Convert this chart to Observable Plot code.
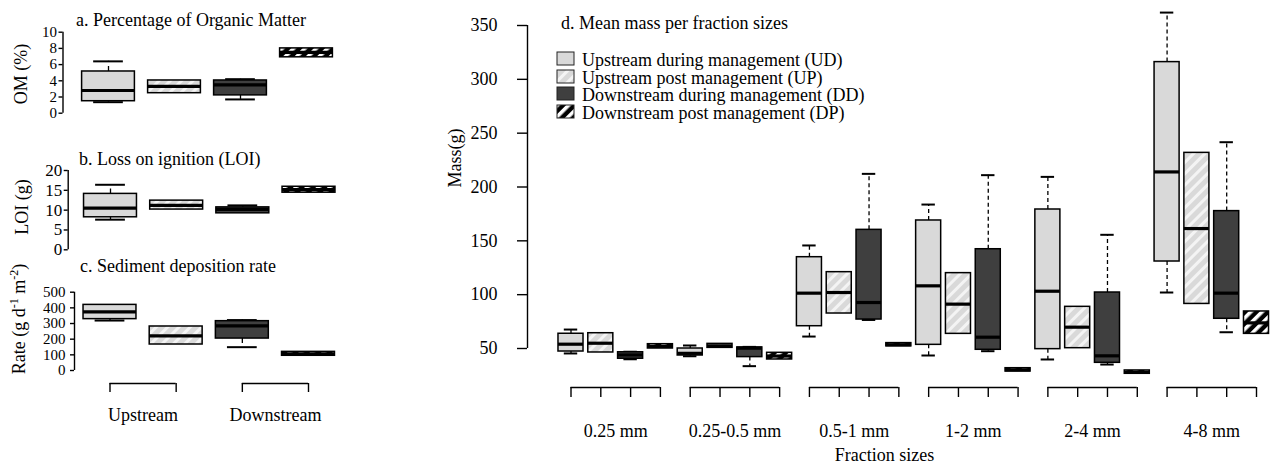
<!DOCTYPE html>
<html>
<head>
<meta charset="utf-8">
<script src="https://cdn.jsdelivr.net/npm/d3@7"></script>
<script src="https://cdn.jsdelivr.net/npm/@observablehq/plot@0.6"></script>
<style>
html,body{margin:0;padding:0;background:#fff;}
#root{position:relative;width:1271px;height:471px;overflow:hidden;background:#fff;font-family:"Liberation Serif","Times New Roman",serif;color:#000;}
.lbl{position:absolute;font-size:18px;line-height:18px;white-space:nowrap;}
.rot{position:absolute;font-size:18px;line-height:18px;white-space:nowrap;transform:translate(-50%,-50%) rotate(-90deg);}
.sup{font-size:12px;position:relative;top:-7px;}
</style>
</head>
<body>
<div id="root">
<svg width="0" height="0" style="position:absolute;left:0;top:0">
 <defs>
  <pattern id="hUP" patternUnits="userSpaceOnUse" width="8" height="8" patternTransform="rotate(45)">
   <rect width="8" height="8" fill="#d9d9d9"/>
   <rect width="3" height="8" fill="#f4f4f4"/>
  </pattern>
  <pattern id="hDP" patternUnits="userSpaceOnUse" width="8" height="8" patternTransform="rotate(45)">
   <rect width="8" height="8" fill="#000"/>
   <rect width="3.6" height="8" fill="#fff"/>
  </pattern>
 </defs>
</svg>
</div>
<script>
// ---------- DATA ----------
const treatments = ["UD", "UP", "DD", "DP"];
const treatmentLabels = [
  "Upstream during management (UD)",
  "Upstream post management (UP)",
  "Downstream during management (DD)",
  "Downstream post management (DP)"
];
const fractions = ["0.25 mm", "0.25-0.5 mm", "0.5-1 mm", "1-2 mm", "2-4 mm", "4-8 mm"];
// each entry: [lower whisker, Q1, median, Q3, upper whisker], one per fraction
const massUD = [
  [45.4, 47.2, 54, 63.7, 67.6],
  [42.8, 43.5, 45.5, 50, 52.8],
  [61.1, 70.7, 101.4, 134.8, 145.7],
  [43.5, 53.4, 108.2, 168.9, 183.7],
  [39.8, 49.4, 103.2, 179.1, 209.4],
  [102, 130.8, 214, 316, 362]
];
const massUP = [
  [46.3, 46.3, 54.9, 64.2, 64.2],
  [50.6, 50.6, 52.5, 54.3, 54.3],
  [82.5, 82.5, 102, 120.9, 120.9],
  [63.6, 63.6, 91.2, 120, 120],
  [50.3, 50.3, 69.8, 88.7, 88.7],
  [91.4, 91.4, 161.4, 231.7, 231.7]
];
const massDD = [
  [40, 40.5, 44, 46.5, 47],
  [33.6, 42, 50.3, 51, 51.5],
  [76.5, 76.9, 92.7, 160.2, 212.2],
  [47.5, 48.8, 60.5, 142.2, 211],
  [35.1, 36.7, 43.2, 102, 155.6],
  [65.1, 77.6, 101.4, 177.6, 241.6]
];
const massDP = [
  [50, 50, 52, 54, 54],
  [39.8, 39.8, 43, 46, 46],
  [52, 52, 53.5, 55, 55],
  [28.6, 28.6, 30.2, 31.7, 31.7],
  [26.5, 26.5, 28, 29.6, 29.6],
  [63.6, 63.6, 73.8, 84.4, 84.4]
];
const massTicks = [50, 100, 150, 200, 250, 300, 350];

const sites = ["Upstream", "Downstream"];
// one box per treatment (UD, UP, DD, DP): [lower whisker, Q1, median, Q3, upper whisker]
const omStats = [[1.36, 1.48, 2.8, 5.15, 6.4], [2.47, 2.47, 3.3, 4.04, 4.04], [1.7, 2.2, 3.5, 4.04, 4.2], [6.9, 6.9, 7.5, 8.0, 8.0]];
const omTicks = [0, 2, 4, 6, 8, 10];
const loiStats = [[7.6, 8.2, 10.5, 14.1, 16.4], [10.15, 10.15, 11.2, 12.4, 12.4], [9.2, 9.2, 10.2, 10.7, 11.2], [14.4, 14.4, 15.2, 15.9, 15.9]];
const loiTicks = [0, 5, 10, 15, 20];
const rateStats = [[319, 328, 375, 419, 419], [166, 166, 221, 281, 281], [149, 204, 285, 315, 322], [94, 94, 107, 119, 119]];
const rateTicks = [0, 100, 200, 300, 400, 500];

// ---------- STYLE ----------
const fillOf = {UD: "#d9d9d9", UP: "url(#hUP)", DD: "#3f3f3f", DP: "url(#hDP)"};
const serif = '"Liberation Serif", "Times New Roman", serif';
const baseStyle = {fontFamily: serif, fontSize: "17px", background: "transparent", color: "#000", overflow: "visible"};
const root = document.getElementById("root");

function toRow(s, pos, t) { return {pos, t, lo: s[0], q1: s[1], med: s[2], q3: s[3], hi: s[4]}; }
function mount(el, left, top) {
  el.style.position = "absolute"; el.style.left = left + "px"; el.style.top = top + "px";
  root.appendChild(el);
}
function addHTML(html) { root.insertAdjacentHTML("beforeend", html); }

function boxMarks(rows, bw, cw, dash) {
  const up = rows.filter(d => d.hi > d.q3), dn = rows.filter(d => d.lo < d.q1);
  const w = {stroke: "#000", strokeWidth: 1.3, strokeDasharray: dash};
  return [
    Plot.ruleX(up, {x: "pos", y1: "q3", y2: "hi", ...w}),
    Plot.ruleX(dn, {x: "pos", y1: "q1", y2: "lo", ...w}),
    Plot.ruleY(up, {x1: d => d.pos - cw / 2, x2: d => d.pos + cw / 2, y: "hi", stroke: "#000", strokeWidth: 2}),
    Plot.ruleY(dn, {x1: d => d.pos - cw / 2, x2: d => d.pos + cw / 2, y: "lo", stroke: "#000", strokeWidth: 2}),
    Plot.rect(rows, {x1: d => d.pos - bw / 2, x2: d => d.pos + bw / 2, y1: "q1", y2: "q3", fill: d => fillOf[d.t], stroke: "#000", strokeWidth: 1.5}),
    Plot.ruleY(rows, {x1: d => d.pos - bw / 2, x2: d => d.pos + bw / 2, y: "med", stroke: "#000", strokeWidth: 3.2})
  ];
}

// ---------- LEFT PANELS ----------
function smallPanel(stats, ticks, top, height, axisLeft, xRange, yRange, tickPadding, tickFont, extra) {
  const rows = stats.map((s, i) => toRow(s, i + 1, treatments[i]));
  const xs = d3.scaleLinear([1, 4], xRange);
  const p = Plot.plot({
    width: 440, height, marginLeft: axisLeft, marginRight: 0,
    marginTop: 20, marginBottom: extra ? extra.marginBottom : 10,
    x: {domain: xs.domain(), range: xs.range(), ...(extra ? {} : {axis: null})},
    y: {domain: [ticks[0], ticks[ticks.length - 1]], range: yRange},
    color: {type: "identity"},
    style: baseStyle,
    marks: [
      Plot.ruleX([xs.invert(axisLeft)], {y1: ticks[0], y2: ticks[ticks.length - 1], strokeWidth: 1.4}),
      Plot.axisY({ticks, tickSize: 4, tickPadding, fontSize: tickFont, strokeWidth: 1.4, label: null}),
      ...boxMarks(rows, 0.8, 0.45, "5,4"),
      ...(extra ? extra.marks : [])
    ]
  });
  mount(p, 0, top);
}

smallPanel(omStats, omTicks, 0, 130, 62.5, [108, 306], [112.7, 31.7], 2, 15);
smallPanel(loiStats, loiTicks, 130, 125, 67.7, [110, 308.5], [119.3, 40], 2, 17);
const siteRows = sites.map((s, i) => ({name: s, a: 2 * i + 1, b: 2 * i + 2, mid: 2 * i + 1.5}));
smallPanel(rateStats, rateTicks, 255, 216, 74, [109.5, 308], [115, 36.7], 5, 15, {
  marginBottom: 88,
  marks: [
    Plot.axisX({ticks: [1, 2, 3, 4], tickSize: 9, tickFormat: () => "", strokeWidth: 1.4, label: null}),
    Plot.ruleY(siteRows, {x1: "a", x2: "b", y: rateTicks[0], dy: 13, strokeWidth: 1.4}),
    Plot.text(siteRows, {x: "mid", text: "name", frameAnchor: "bottom", dy: 37, fontSize: 18})
  ]
});

addHTML('<div class="lbl" style="left:76px;top:11px">a. Percentage of Organic Matter</div>');
addHTML('<div class="lbl" style="left:79px;top:150px">b. Loss on ignition (LOI)</div>');
addHTML('<div class="lbl" style="left:80px;top:257px">c. Sediment deposition rate</div>');
addHTML('<div class="rot" style="left:21px;top:74px">OM (%)</div>');
addHTML('<div class="rot" style="left:22px;top:207px">LOI (g)</div>');
addHTML('<div class="rot" style="left:20px;top:319px">Rate (g d<span class="sup">-1</span> m<span class="sup">-2</span>)</div>');

// ---------- PANEL D ----------
const massStats = [massUD, massUP, massDD, massDP];
const dRows = [];
fractions.forEach((f, g) => treatments.forEach((t, i) => dRows.push(toRow(massStats[i][g], g * 4 + i + 1, t))));
const groupRows = fractions.map((f, g) => ({name: f, first: g * 4 + 1, last: g * 4 + 4, mid: g * 4 + 2.5}));
const dX = d3.scaleLinear([1, 24], [130.5, 816]);
const dLeft = 87;
const dPlot = Plot.plot({
  width: 831, height: 471, marginLeft: dLeft, marginRight: 30, marginTop: 25, marginBottom: 84,
  x: {domain: dX.domain(), range: dX.range()},
  y: {domain: [massTicks[0], massTicks[massTicks.length - 1]], range: [348, 25]},
  color: {type: "identity"},
  style: baseStyle,
  marks: [
    Plot.ruleX([dX.invert(dLeft)], {y1: massTicks[0], y2: massTicks[massTicks.length - 1], strokeWidth: 1.4}),
    Plot.axisY({ticks: massTicks, tickSize: 10, tickPadding: 20, fontSize: 18, strokeWidth: 1.4, label: null}),
    Plot.axisX({ticks: dRows.map(d => d.pos), tickSize: 10, tickFormat: () => "", strokeWidth: 1.4, label: null}),
    Plot.ruleY(groupRows, {x1: "first", x2: "last", y: massTicks[0], dy: 39, strokeWidth: 1.4}),
    Plot.text(groupRows, {x: "mid", text: "name", frameAnchor: "bottom", dy: 49, fontSize: 18}),
    Plot.text(["Fraction sizes"], {text: d => d, frameAnchor: "bottom", dy: 73, fontSize: 18}),
    Plot.text(["Mass(g)"], {text: d => d, frameAnchor: "left", dx: -72, dy: -19, rotate: -90, fontSize: 18}),
    ...boxMarks(dRows, 0.84, 0.45, "4,3")
  ]
});
mount(dPlot, 440, 0);

addHTML('<div class="lbl" style="left:561px;top:14px">d. Mean mass per fraction sizes</div>');
treatmentLabels.forEach((name, i) => {
  const base = 66 + i * 17.5;
  addHTML(`<svg width="19" height="15" style="position:absolute;left:556px;top:${base - 15}px"><rect x="1" y="1" width="17" height="13" fill="${fillOf[treatments[i]]}" stroke="#222" stroke-width="1"/></svg>`);
  addHTML(`<div class="lbl" style="left:582px;top:${base - 15}px">${name}</div>`);
});
</script>
</body>
</html>
